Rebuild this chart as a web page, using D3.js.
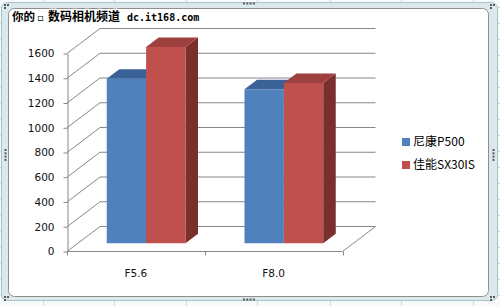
<!DOCTYPE html>
<html>
<head>
<meta charset="utf-8">
<script src="https://cdn.jsdelivr.net/npm/d3@7"></script>
<style>
  html, body { margin: 0; padding: 0; background: #fff; }
  svg { display: block; }
</style>
</head>
<body>
<div id="chart"></div>
<script>
// chart data
const categories = ['F5.6', 'F8.0'];
const seriesNames = ['尼康P500', '佳能SX30IS'];
const nikonValues = [1330, 1245];
const canonValues = [1585, 1295];
const yTicks = [0, 200, 400, 600, 800, 1000, 1200, 1400, 1600];
const titleParts = ['你的', '▫', '数码相机频道', 'dc.it168.com'];

class BarChart3D {

    constructor(_config) {
        this.config = {
            parentElement: _config.parentElement,
            containerWidth: 500,
            containerHeight: 306,
            // front plane of the plot area
            plot: { left: 67, right: 342.5, top: 53, bottom: 251 },
            // full depth of the 3d box
            depth: { dx: 33, dy: 25 },
            barDepth: [0.31, 0.69],
            colors: [
                { front: '#4f81bd', top: '#3b6296', side: '#2f4f7a' },
                { front: '#c0504d', top: '#9e403d', side: '#7a2f2d' }
            ]
        };
        this.initVis();
    }

    initVis() {
        let vis = this;
        let c = vis.config;

        vis.svg = d3.select(c.parentElement)
            .append('svg')
            .attr('width', c.containerWidth)
            .attr('height', c.containerHeight);

        vis.y = d3.scaleLinear().domain([0, 1600]).range([c.plot.bottom, c.plot.top]);
        vis.x = d3.scaleBand().domain(categories).range([c.plot.left, c.plot.right]).padding(0);
        // gap width 150% -> outer padding 0.75 of a bar on each side
        vis.xs = d3.scaleBand().domain(seriesNames).range([0, vis.x.bandwidth()])
            .paddingInner(0).paddingOuter(0.75);

        vis.project = (px, v, z) => [px + z * c.depth.dx, vis.y(v) - z * c.depth.dy];

        vis.drawFrame();
        vis.drawWalls();
        vis.drawBars();
        vis.drawAxes();
        vis.drawLegend();
        vis.drawTitle();
    }

    drawFrame() {
        let vis = this;
        let svg = vis.svg;

        svg.append('rect').attr('width', 500).attr('height', 306).attr('fill', '#f7fafb');

        // spreadsheet grid behind the chart object
        [43, 114, 186, 257, 330, 401, 473].forEach(gx => {
            svg.append('line').attr('x1', gx + 0.5).attr('x2', gx + 0.5).attr('y1', 0).attr('y2', 306)
                .attr('stroke', '#c9dde1');
        });
        d3.range(7, 306, 16).forEach(gy => {
            svg.append('line').attr('x1', 0).attr('x2', 500).attr('y1', gy + 0.5).attr('y2', gy + 0.5)
                .attr('stroke', '#c9dde1');
        });

        svg.append('rect')
            .attr('x', 1.5).attr('y', 2.5).attr('width', 496).attr('height', 298).attr('rx', 6)
            .attr('fill', '#dbe9ed').attr('stroke', '#aac3c9');
        svg.append('rect')
            .attr('x', 8.5).attr('y', 8.5).attr('width', 480).attr('height', 288).attr('rx', 6)
            .attr('fill', '#ffffff').attr('stroke', '#8f8f8f');

        // selection handles
        let dots = [];
        [[4, 4], [490, 4], [4, 296], [490, 296]].forEach(([hx, hy]) => {
            dots.push([hx, hy], [hx + 3, hy], [hx, hy + 3]);
        });
        d3.range(4).forEach(i => {
            dots.push([243 + i * 3.3, 2.5], [243 + i * 3.3, 298.5]);
            dots.push([4.5, 149 + i * 3.3], [492.5, 149 + i * 3.3]);
        });
        svg.append('g').selectAll('rect').data(dots).join('rect')
            .attr('x', d => d[0]).attr('y', d => d[1])
            .attr('width', 2).attr('height', 2)
            .attr('fill', '#5a5a5a');
    }

    drawWalls() {
        let vis = this;
        let c = vis.config;
        let g = vis.svg.append('g').attr('stroke', '#878787').attr('fill', 'none').attr('stroke-width', 1);

        // side wall diagonals and back wall gridlines
        g.selectAll('.diag').data(yTicks).join('line')
            .attr('class', 'diag')
            .attr('x1', c.plot.left).attr('y1', d => vis.y(d) + 0.5)
            .attr('x2', d => vis.project(c.plot.left, d, 1)[0]).attr('y2', d => vis.project(c.plot.left, d, 1)[1] + 0.5);
        g.selectAll('.back').data(yTicks).join('line')
            .attr('class', 'back')
            .attr('x1', d => vis.project(c.plot.left, d, 1)[0]).attr('y1', d => vis.project(c.plot.left, d, 1)[1] + 0.5)
            .attr('x2', d => vis.project(c.plot.right, d, 1)[0]).attr('y2', d => vis.project(c.plot.right, d, 1)[1] + 0.5);

        // floor right edge
        let fr0 = vis.project(c.plot.right, 0, 0);
        let fr1 = vis.project(c.plot.right, 0, 1);
        g.append('line').attr('x1', fr0[0]).attr('y1', fr0[1] + 0.5).attr('x2', fr1[0]).attr('y2', fr1[1] + 0.5);
    }

    drawBars() {
        let vis = this;
        let c = vis.config;
        let [z0, z1] = c.barDepth;
        let line = d3.line();

        let bars = [];
        categories.forEach((cat, i) => {
            [nikonValues, canonValues].forEach((vals, s) => {
                let x0 = vis.x(cat) + vis.xs(seriesNames[s]);
                let x1 = x0 + vis.xs.bandwidth();
                let v = vals[i];
                bars.push({
                    s: s,
                    front: [vis.project(x0, 0, z0), vis.project(x1, 0, z0), vis.project(x1, v, z0), vis.project(x0, v, z0)],
                    top: [vis.project(x0, v, z0), vis.project(x1, v, z0), vis.project(x1, v, z1), vis.project(x0, v, z1)],
                    side: [vis.project(x1, 0, z0), vis.project(x1, v, z0), vis.project(x1, v, z1), vis.project(x1, 0, z1)]
                });
            });
        });

        let g = vis.svg.append('g');
        bars.forEach(b => {
            let col = c.colors[b.s];
            g.append('path').attr('d', line(b.side) + 'Z').attr('fill', col.side);
            g.append('path').attr('d', line(b.top) + 'Z').attr('fill', col.top);
            g.append('path').attr('d', line(b.front) + 'Z').attr('fill', col.front);
        });
    }

    drawAxes() {
        let vis = this;
        let c = vis.config;

        let yAxis = d3.axisLeft(vis.y).tickValues(yTicks).tickFormat(d3.format('d'))
            .tickSize(4).tickPadding(9).tickSizeOuter(0);
        let yg = vis.svg.append('g')
            .attr('transform', `translate(${c.plot.left + 0.5},0.5)`)
            .call(yAxis);
        yg.selectAll('line, path').attr('stroke', '#878787');
        yg.selectAll('text')
            .attr('fill', '#111')
            .style('font-family', '"DejaVu Sans", Verdana, sans-serif')
            .style('font-size', '10.5px');

        // front floor edge with ticks at category boundaries
        let xg = vis.svg.append('g').attr('transform', `translate(0,${c.plot.bottom + 0.5})`);
        xg.append('line').attr('x1', c.plot.left).attr('x2', c.plot.right).attr('stroke', '#878787');
        let bounds = categories.map(d => vis.x(d)).concat([c.plot.right]);
        xg.selectAll('.bt').data(bounds).join('line')
            .attr('class', 'bt')
            .attr('x1', d => Math.round(d) + 0.5).attr('x2', d => Math.round(d) + 0.5)
            .attr('y1', 0).attr('y2', 4)
            .attr('stroke', '#878787');

        let xAxis = d3.axisBottom(vis.x).tickSize(0).tickPadding(19);
        let lg = vis.svg.append('g')
            .attr('transform', `translate(0,${c.plot.bottom})`)
            .call(xAxis);
        lg.select('.domain').remove();
        lg.selectAll('text')
            .attr('fill', '#111')
            .style('font-family', '"DejaVu Sans", Verdana, sans-serif')
            .style('font-size', '10.5px');
    }

    drawLegend() {
        let vis = this;
        let c = vis.config;
        let items = vis.svg.append('g').selectAll('g').data(seriesNames).join('g')
            .attr('transform', (d, i) => `translate(402,${138 + i * 23})`);
        items.append('rect')
            .attr('width', 8).attr('height', 8)
            .attr('fill', (d, i) => c.colors[i].front);
        items.append('text')
            .attr('x', 11).attr('y', 7.5)
            .attr('fill', '#000')
            .style('font-family', '"Noto Sans CJK SC", sans-serif')
            .style('font-size', '12px')
            .text(d => d);
    }

    drawTitle() {
        let vis = this;
        let xs = [12, 37, 48, 127];
        let fonts = ['"Noto Sans CJK SC"', '"DejaVu Sans"', '"Noto Sans CJK SC"', '"DejaVu Sans Mono", monospace'];
        let sizes = [11.5, 10, 12, 10];
        vis.svg.append('g').selectAll('text').data(titleParts).join('text')
            .attr('x', (d, i) => xs[i])
            .attr('y', 21)
            .attr('fill', '#000')
            .attr('stroke', '#fff')
            .attr('stroke-width', 2.5)
            .attr('paint-order', 'stroke')
            .style('font-weight', 'bold')
            .style('font-family', (d, i) => fonts[i])
            .style('font-size', (d, i) => sizes[i] + 'px')
            .text(d => d);
    }
}

new BarChart3D({ parentElement: '#chart' });
</script>
</body>
</html>
